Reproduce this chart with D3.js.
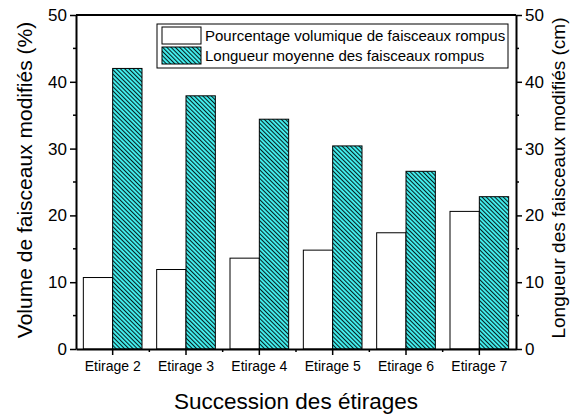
<!DOCTYPE html>
<html><head><meta charset="utf-8">
<script src="https://cdn.jsdelivr.net/npm/d3@7"></script>
<style>body{margin:0;background:#fff}svg{font-family:"Liberation Sans",Arial,sans-serif}</style>
</head><body>
<svg id="c" width="571" height="418"></svg>
<script>
const categories = ["Etirage 2","Etirage 3","Etirage 4","Etirage 5","Etirage 6","Etirage 7"];
const volumePct = [10.7, 11.9, 13.6, 14.8, 17.4, 20.6];
const longueurCm = [42.0, 37.9, 34.4, 30.4, 26.6, 22.8];
const leftTicks = [0,10,20,30,40,50];
const rightTicks = [0,10,20,30,40,50];
const seriesNames = ["Pourcentage volumique de faisceaux rompus","Longueur moyenne des faisceaux rompus"];

const svg = d3.select("#c");
const m = {l:76, r:516, t:15, b:349};
const x = d3.scaleBand().domain(categories).range([m.l, m.r]).paddingInner(0).paddingOuter(0);
const yL = d3.scaleLinear().domain([0,50]).range([m.b, m.t]);
const yR = d3.scaleLinear().domain([0,50]).range([m.b, m.t]);

const defs = svg.append("defs");
const pat = defs.append("pattern").attr("id","hatch").attr("patternUnits","userSpaceOnUse")
  .attr("width",3).attr("height",3).attr("patternTransform","rotate(-45)");
pat.append("rect").attr("width",3).attr("height",3).attr("fill","#44f0f0");
pat.append("rect").attr("x",0).attr("y",0).attr("width",1.05).attr("height",3).attr("fill","#052020");

const bw = x.bandwidth()*0.4;
const g = svg.append("g");
categories.forEach((c,i)=>{
  const cx = x(c)+x.bandwidth()/2;
  g.append("rect").attr("x",cx-bw).attr("y",yL(volumePct[i])).attr("width",bw)
    .attr("height",yL(0)-yL(volumePct[i])).attr("fill","#fff").attr("stroke","#000").attr("stroke-width",1);
  g.append("rect").attr("x",cx).attr("y",yR(longueurCm[i])).attr("width",bw)
    .attr("height",yR(0)-yR(longueurCm[i])).attr("fill","url(#hatch)").attr("stroke","#000").attr("stroke-width",1);
});

svg.append("line").attr("x1",m.l).attr("x2",m.r).attr("y1",m.t).attr("y2",m.t).attr("stroke","#000").attr("stroke-width",2);

const la = svg.append("g").attr("transform",`translate(${m.l},0)`)
  .call(d3.axisLeft(yL).tickValues(leftTicks).tickSize(6).tickPadding(3).tickSizeOuter(0));
const ra = svg.append("g").attr("transform",`translate(${m.r},0)`)
  .call(d3.axisRight(yR).tickValues(rightTicks).tickSize(6).tickPadding(3).tickSizeOuter(0));
const ba = svg.append("g").attr("transform",`translate(0,${m.b})`)
  .call(d3.axisBottom(x).tickSize(6).tickPadding(6).tickSizeOuter(0));
[la,ra,ba].forEach(a=>{
  a.select(".domain").attr("stroke-width",2);
  a.selectAll(".tick line").attr("stroke-width",1.5);
  a.selectAll("text").attr("fill","#000").style("font-family","Liberation Sans, Arial, sans-serif");
});
la.selectAll("text").attr("font-size",17);
ra.selectAll("text").attr("font-size",17);
ba.selectAll("text").attr("font-size",14);

const minor = [5,15,25,35,45];
svg.append("g").selectAll("line").data(minor).join("line")
  .attr("x1",m.l-3).attr("x2",m.l).attr("y1",d=>yL(d)).attr("y2",d=>yL(d)).attr("stroke","#000").attr("stroke-width",1.5);
svg.append("g").selectAll("line").data(minor).join("line")
  .attr("x1",m.r).attr("x2",m.r+3).attr("y1",d=>yR(d)).attr("y2",d=>yR(d)).attr("stroke","#000").attr("stroke-width",1.5);
svg.append("g").selectAll("line").data(categories.slice(1)).join("line")
  .attr("x1",d=>x(d)).attr("x2",d=>x(d)).attr("y1",m.b).attr("y2",m.b+3).attr("stroke","#000").attr("stroke-width",1.5);

svg.append("text").attr("transform",`translate(32,180) rotate(-90)`).attr("text-anchor","middle")
  .attr("font-size",21).text("Volume de faisceaux modifiés (%)");
svg.append("text").attr("transform",`translate(565,178) rotate(-90)`).attr("text-anchor","middle")
  .attr("font-size",19).text("Longueur des faisceaux modifiés (cm)");
svg.append("text").attr("x",296).attr("y",409).attr("text-anchor","middle")
  .attr("font-size",22.5).text("Succession des étirages");

const lg = svg.append("g");
lg.append("rect").attr("x",157).attr("y",24).attr("width",351).attr("height",44).attr("fill","#fff").attr("stroke","#000").attr("stroke-width",1);
const fills = ["#fff","url(#hatch)"];
seriesNames.forEach((s,i)=>{
  lg.append("rect").attr("x",162).attr("y",27+i*20).attr("width",39).attr("height",17)
    .attr("fill",fills[i]).attr("stroke","#000").attr("stroke-width",1);
  lg.append("text").attr("x",205).attr("y",36+i*20).attr("dy","0.35em").attr("font-size",15).text(s);
});
</script>
</body></html>
